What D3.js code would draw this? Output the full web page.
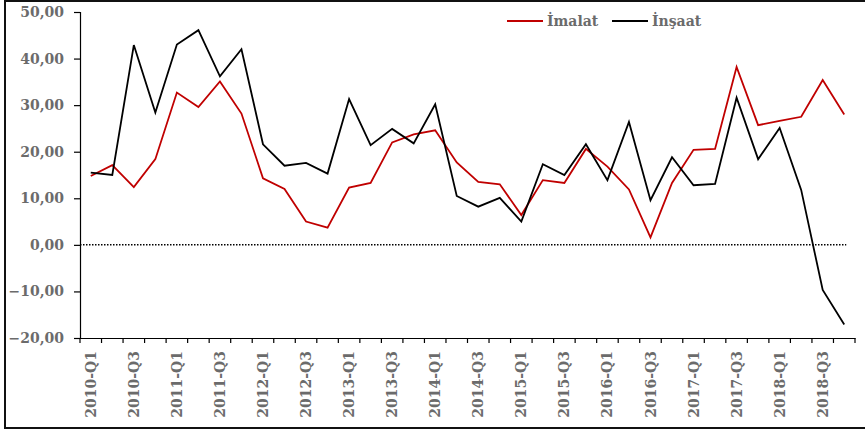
<!DOCTYPE html>
<html>
<head>
<meta charset="utf-8">
<script src="https://cdn.jsdelivr.net/npm/d3@7"></script>
<style>
  body { margin: 0; background: #fff; }
  svg text { font-family: "DejaVu Serif", serif; font-weight: bold; fill: #6b6b6b; }
</style>
</head>
<body>
<svg id="chart" width="865" height="430"></svg>
<script>
const quarters = [];
[2010, 2011, 2012, 2013, 2014, 2015, 2016, 2017, 2018].forEach(y => {
  ["Q1", "Q2", "Q3", "Q4"].forEach(q => quarters.push(y + "-" + q));
});

const imalat = [14.8, 17.1, 12.4, 18.4, 32.7, 29.6, 35.1, 28.2, 14.3, 12.0,
  5.0, 3.7, 12.3, 13.3, 22.0, 23.7, 24.6, 17.7, 13.5, 13.0,
  6.4, 13.9, 13.3, 20.6, 16.8, 11.9, 1.6, 13.3, 20.4, 20.6,
  38.2, 25.7, 26.6, 27.5, 35.4, 28.0];

const insaat = [15.5, 15.0, 42.9, 28.4, 43.0, 46.1, 36.2, 42.0, 21.6, 17.0,
  17.6, 15.3, 31.3, 21.4, 24.9, 21.8, 30.2, 10.5, 8.2, 10.1,
  5.0, 17.3, 15.0, 21.6, 13.9, 26.4, 9.6, 18.8, 12.8, 13.1,
  31.6, 18.4, 25.1, 11.8, -9.7, -17.1];

const yTicks = [-20, -10, 0, 10, 20, 30, 40, 50];

const svg = d3.select("#chart");
const margin = { top: 12, right: 10, bottom: 92, left: 80 };
const W = 865, H = 430;
const plotR = 855;

// outer frame (right side is cut off in the original)
svg.append("path")
  .attr("d", `M${W + 5},1 H5 V428 H${W + 5}`)
  .attr("fill", "none").attr("stroke", "#111").attr("stroke-width", 2);

const x = d3.scaleBand().domain(quarters).range([margin.left, plotR]);
const y = d3.scaleLinear().domain([-20, 50]).range([338, margin.top]);

const fmt = v => d3.format(".2f")(v).replace(".", ",");

// y axis
const yAxis = svg.append("g").attr("transform", `translate(${margin.left},0)`)
  .call(d3.axisLeft(y).tickValues(yTicks).tickSize(6).tickPadding(10).tickFormat(fmt));
yAxis.select(".domain").attr("stroke", "#000").attr("stroke-width", 1.2);
yAxis.selectAll(".tick line").attr("stroke", "#000").attr("stroke-width", 1.2);
yAxis.selectAll("text").style("font-size", "14px").style("font-family", "DejaVu Serif").style("font-weight", "bold").attr("fill", "#6b6b6b");

// x axis
const xAxis = svg.append("g").attr("transform", `translate(0,${y(-20)})`)
  .call(d3.axisBottom(x).tickSize(0).tickFormat((d, i) => i % 2 === 0 ? d : ""));
xAxis.select(".domain").attr("stroke", "#000").attr("stroke-width", 1.2);
xAxis.selectAll("text")
  .attr("transform", "rotate(-90)")
  .attr("text-anchor", "end")
  .attr("x", -13).attr("y", 0).attr("dy", "0.36em")
  .style("font-size", "14px").style("font-family", "DejaVu Serif").style("font-weight", "bold").attr("fill", "#6b6b6b");

// boundary ticks between categories
const bounds = quarters.map(q => x(q)).concat([plotR]);
svg.append("g").selectAll("line").data(bounds).join("line")
  .attr("x1", d => d).attr("x2", d => d)
  .attr("y1", y(-20)).attr("y2", y(-20) + 5)
  .attr("stroke", "#000").attr("stroke-width", 1.2);

// zero line
svg.append("line")
  .attr("x1", margin.left).attr("x2", x(quarters[35]) + x.bandwidth() / 2 + 2)
  .attr("y1", y(0)).attr("y2", y(0))
  .attr("stroke", "#000").attr("stroke-width", 1.5).attr("stroke-dasharray", "1.5,1.5");

const line = d3.line()
  .x((d, i) => x(quarters[i]) + x.bandwidth() / 2)
  .y(d => y(d));

svg.append("path").datum(imalat).attr("d", line)
  .attr("fill", "none").attr("stroke", "#c00000").attr("stroke-width", 1.8);
svg.append("path").datum(insaat).attr("d", line)
  .attr("fill", "none").attr("stroke", "#000").attr("stroke-width", 1.8);

// legend
const legend = [
  { name: "İmalat", color: "#c00000", x: 507 },
  { name: "İnşaat", color: "#000", x: 612 }
];
const lg = svg.append("g").selectAll("g").data(legend).join("g")
  .attr("transform", d => `translate(${d.x},21)`);
lg.append("line").attr("x1", 0).attr("x2", 36)
  .attr("stroke", d => d.color).attr("stroke-width", 2);
lg.append("text").attr("x", 40).attr("dy", "0.36em")
  .style("font-size", "14px")
  .text(d => d.name);
</script>
</body>
</html>
